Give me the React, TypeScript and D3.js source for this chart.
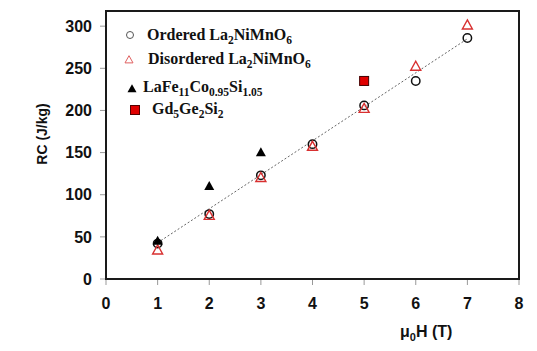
import React from "react";
import * as d3 from "d3";

const fields = [1, 2, 3, 4, 5, 6, 7];
const ordered = [42, 77, 123, 160, 206, 235, 286];
const disordered = [34, 75, 120, 157, 202, 252, 301];
const lafeFields = [1, 2, 3];
const lafe = [45, 110, 150];
const gdFields = [5];
const gd = [235];
const fitX = [1, 7];
const fitY = [43, 285];
const xTicks = [0, 1, 2, 3, 4, 5, 6, 7, 8];
const yTicks = [0, 50, 100, 150, 200, 250, 300];

const W = 537, H = 351;
const L = 106, R = 519, T = 11, B = 279;

const tri = (cx: number, cy: number, s: number) => {
  const h = s * 0.9;
  return `M${cx},${cy - h * 0.6}L${cx + s / 2},${cy + h * 0.4}L${cx - s / 2},${cy + h * 0.4}Z`;
};

export default function App() {
  const x = d3.scaleLinear().domain([0, 8]).range([L, R]);
  const y = d3.scaleLinear().domain([0, 318]).range([B, T]);
  const line = d3.line<number>().x((_, i) => x(fitX[i])).y((d) => y(d));
  const sans = "'Liberation Sans', Arial, sans-serif";
  const serif = "'Liberation Serif', 'Times New Roman', serif";
  const sub = (t: string) => (
    <tspan fontSize={11.5} dy={3.5}>{t}</tspan>
  );
  const up = (t: string) => <tspan dy={-3.5}>{t}</tspan>;
  return (
    <svg width={W} height={H} style={{ position: "absolute", left: 0, top: 0, background: "#fff" }}>
      <rect x={0} y={0} width={W} height={H} fill="#fff" />
      {yTicks.map((t) => (
        <g key={"y" + t}>
          <line x1={L - 6} x2={L} y1={y(t)} y2={y(t)} stroke="#999" strokeWidth={1} />
          <text x={92} y={y(t)} dy="0.36em" textAnchor="end" fontFamily={sans} fontWeight="bold" fontSize={16} fill="#111">{t}</text>
        </g>
      ))}
      {xTicks.map((t) => (
        <g key={"x" + t}>
          <line x1={x(t)} x2={x(t)} y1={B} y2={B + 6} stroke="#999" strokeWidth={1} />
          <text x={x(t)} y={303} dy="0.36em" textAnchor="middle" fontFamily={sans} fontWeight="bold" fontSize={16} fill="#111">{t}</text>
        </g>
      ))}
      <rect x={L} y={T} width={R - L} height={B - T} fill="none" stroke="#1a1a1a" strokeWidth={2} />
      <path d={line(fitY) || ""} fill="none" stroke="#666" strokeWidth={1} strokeDasharray="2,2" />
      {fields.map((f, i) => (
        <circle key={"o" + i} cx={x(f)} cy={y(ordered[i])} r={4.2} fill="none" stroke="#111" strokeWidth={1.5} />
      ))}
      {fields.map((f, i) => (
        <path key={"d" + i} d={tri(x(f), y(disordered[i]), 10)} fill="none" stroke="#d83030" strokeWidth={1.4} />
      ))}
      {lafeFields.map((f, i) => (
        <path key={"l" + i} d={tri(x(f), y(lafe[i]), 10)} fill="#000" />
      ))}
      {gdFields.map((f, i) => (
        <rect key={"g" + i} x={x(f) - 4.5} y={y(gd[i]) - 4.5} width={9} height={9} fill="#e00000" stroke="#400" strokeWidth={1} />
      ))}
      <circle cx={130} cy={35} r={3.5} fill="none" stroke="#555" strokeWidth={1} />
      <text x={147} y={40} fontFamily={serif} fontWeight="bold" fontSize={16} fill="#111">
        Ordered La{sub("2")}{up("NiMnO")}{sub("6")}
      </text>
      <path d={tri(129, 60, 8)} fill="none" stroke="#e06060" strokeWidth={1} />
      <text x={148} y={64} fontFamily={serif} fontWeight="bold" fontSize={16} fill="#111">
        Disordered La{sub("2")}{up("NiMnO")}{sub("6")}
      </text>
      <path d={tri(132, 89, 9)} fill="#000" />
      <text x={143} y={92} fontFamily={serif} fontWeight="bold" fontSize={16} fill="#111">
        LaFe{sub("11")}{up("Co")}{sub("0.95")}{up("Si")}{sub("1.05")}
      </text>
      <rect x={130.5} y={105.5} width={9} height={9} fill="#e00000" stroke="#500" strokeWidth={1} />
      <text x={152} y={114} fontFamily={serif} fontWeight="bold" fontSize={16} fill="#111">
        Gd{sub("5")}{up("Ge")}{sub("2")}{up("Si")}{sub("2")}
      </text>
      <text transform={`translate(47,134) rotate(-90)`} textAnchor="middle" fontFamily={sans} fontWeight="bold" fontSize={14} fill="#111">RC (J/kg)</text>
      <text x={400} y={337} fontFamily={sans} fontWeight="bold" fontSize={16} fill="#111">
        μ<tspan fontSize={11} dy={4}>0</tspan><tspan dy={-4}>H (T)</tspan>
      </text>
    </svg>
  );
}
